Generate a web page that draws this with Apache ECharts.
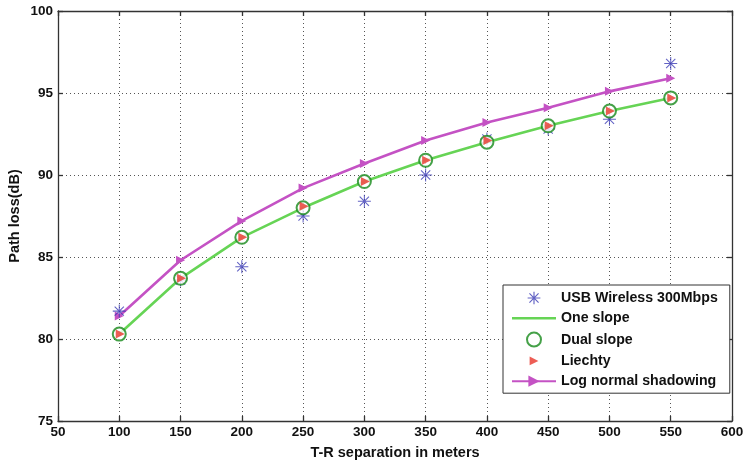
<!DOCTYPE html>
<html>
<head>
<meta charset="utf-8">
<script src="https://cdn.jsdelivr.net/npm/echarts@6/dist/echarts.min.js"></script>
<style>
html,body{margin:0;padding:0;background:#fff;}
#chart{width:747px;height:464px;}
</style>
</head>
<body>
<div id="chart"></div>
<script>
var distances = [100, 150, 200, 250, 300, 350, 400, 450, 500, 550];
var usbWireless = [81.7, 83.6, 84.4, 87.5, 88.4, 90.0, 92.2, 92.8, 93.4, 96.8];
var oneSlope   = [80.3, 83.7, 86.2, 88.0, 89.6, 90.9, 92.0, 93.0, 93.9, 94.7];
var dualSlope  = [80.3, 83.7, 86.2, 88.0, 89.6, 90.9, 92.0, 93.0, 93.9, 94.7];
var liechty    = [80.3, 83.7, 86.2, 88.1, 89.6, 90.9, 92.1, 93.0, 93.9, 94.7];
var logNormal  = [81.4, 84.8, 87.2, 89.2, 90.7, 92.1, 93.2, 94.1, 95.1, 95.9];
var xTicks = [50, 100, 150, 200, 250, 300, 350, 400, 450, 500, 550, 600];
var yTicks = [75, 80, 85, 90, 95, 100];

function pairs(vals) { return distances.map(function (d, i) { return [d, vals[i]]; }); }

var FONT = "'Liberation Sans', Arial, sans-serif";
var asterisk = 'path://M0,9.2L20,9.2L20,10.8L0,10.8Z M9.2,0L10.8,0L10.8,20L9.2,20Z M3.47,2.33L17.67,16.53L16.53,17.67L2.33,3.47Z M17.67,3.47L3.47,17.67L2.33,16.53L16.53,2.33Z';
var asteriskLegend = 'path://M-1,-1M21,21M0,9.1L20,9.1L20,10.9L0,10.9Z M9.1,0L10.9,0L10.9,20L9.1,20Z M3.47,2.2L17.8,16.53L16.53,17.8L2.2,3.47Z M17.8,3.47L3.47,17.8L2.2,16.53L16.53,2.2Z';
var rightTri = 'path://M0,0L10,5L0,10Z';
var rightTriLegend = 'path://M-3,-3M13,13M0,0L10,5L0,10Z';
var lineLegend = 'path://M0,0M0,14M0,5.8L44,5.8L44,8.2L0,8.2Z';

var axisLine = { show: true, lineStyle: { color: '#333', width: 1.3 } };
var gridLine = { show: true, lineStyle: { color: '#555', width: 1, type: [1, 3] } };
var tick = { show: true, inside: true, length: 5, lineStyle: { color: '#333', width: 1.3 } };

var chart = echarts.init(document.getElementById('chart'));
chart.setOption({
  animation: false,
  backgroundColor: '#fff',
  grid: { left: 58, right: 15, top: 11, bottom: 43, outerBoundsMode: 'none', containLabel: false },
  xAxis: [{
    type: 'value', min: xTicks[0], max: xTicks[xTicks.length - 1], interval: 50,
    name: 'T-R separation in meters', nameLocation: 'middle', nameGap: 24,
    nameTextStyle: { fontFamily: FONT, fontWeight: 'bold', fontSize: 14.5, color: '#111' },
    axisLine: axisLine, axisTick: tick,
    axisLabel: { fontFamily: FONT, fontWeight: 'bold', fontSize: 13.5, color: '#111', margin: 4 },
    splitLine: gridLine
  }, {
    type: 'value', position: 'top', min: xTicks[0], max: xTicks[xTicks.length - 1], interval: 50,
    axisLine: axisLine, axisTick: tick,
    axisLabel: { show: false }, splitLine: { show: false }
  }],
  yAxis: [{
    type: 'value', min: yTicks[0], max: yTicks[yTicks.length - 1], interval: 5,
    name: 'Path loss(dB)', nameLocation: 'middle', nameGap: 36, nameMoveOverlap: false,
    nameTextStyle: { fontFamily: FONT, fontWeight: 'bold', fontSize: 14.5, color: '#111' },
    axisLine: axisLine, axisTick: tick,
    axisLabel: { fontFamily: FONT, fontWeight: 'bold', fontSize: 13.5, color: '#111', margin: 5 },
    splitLine: gridLine
  }, {
    type: 'value', position: 'right', min: yTicks[0], max: yTicks[yTicks.length - 1], interval: 5,
    axisLine: axisLine, axisTick: tick,
    axisLabel: { show: false }, splitLine: { show: false }
  }],
  legend: {
    orient: 'vertical', left: 503, top: 285,
    backgroundColor: '#fff', borderColor: '#333', borderWidth: 1,
    padding: [6, 12, 5, 8], itemGap: 6.3, itemWidth: 44, itemHeight: 14,
    textStyle: { fontFamily: FONT, fontWeight: 'bold', fontSize: 14.2, color: '#111' },
    data: [
      { name: 'USB Wireless 300Mbps', icon: asteriskLegend },
      { name: 'One slope', icon: lineLegend },
      { name: 'Dual slope' },
      { name: 'Liechty', icon: rightTriLegend },
      { name: 'Log normal shadowing' }
    ]
  },
  series: [{
    name: 'One slope', type: 'line', data: pairs(oneSlope), symbol: 'none',
    lineStyle: { color: '#66d455', width: 2.6 }, itemStyle: { color: '#66d455' }, z: 2
  }, {
    name: 'Log normal shadowing', type: 'line', data: pairs(logNormal),
    symbol: rightTri, symbolSize: 9,
    lineStyle: { color: '#c452c4', width: 2.6 }, itemStyle: { color: '#c452c4' }, z: 2
  }, {
    name: 'USB Wireless 300Mbps', type: 'scatter', data: pairs(usbWireless),
    symbol: asterisk, symbolSize: 13, itemStyle: { color: '#3b3bb5' }, z: 3
  }, {
    name: 'Dual slope', type: 'scatter', data: pairs(dualSlope),
    symbol: 'emptyCircle', symbolSize: 13,
    itemStyle: { color: '#17891a', borderColor: '#17891a', borderWidth: 2 }, z: 4
  }, {
    name: 'Liechty', type: 'scatter', data: pairs(liechty),
    symbol: rightTri, symbolSize: 9, symbolOffset: [1, 0],
    itemStyle: { color: '#e8342a' }, z: 5
  }]
});
</script>
</body>
</html>
